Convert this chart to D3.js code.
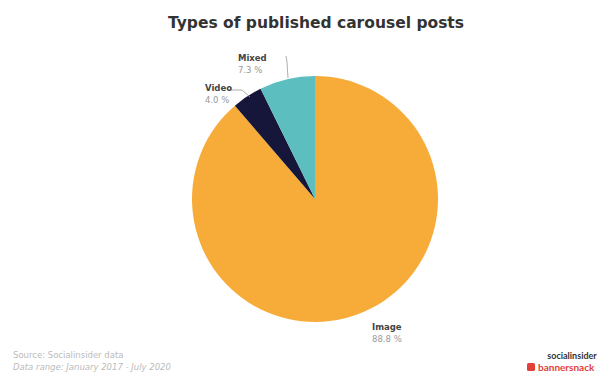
<!DOCTYPE html>
<html><head><meta charset="utf-8">
<script src="https://cdn.jsdelivr.net/npm/d3@7"></script>
<style>body{margin:0;background:#fff}svg{display:block}</style>
</head><body><div id="c"></div>
<script>
const categories = ["Image", "Video", "Mixed"];
const values = [88.8, 4.0, 7.3];
const valueLabels = ["88.8 %", "4.0 %", "7.3 %"];
const colors = ["#F7AC3A", "#16163A", "#5CBEBE"];
const title = "Types of published carousel posts";

const W = 616, H = 378;
const svg = d3.select("#c").append("svg").attr("width", W).attr("height", H);
const cx = 315, cy = 199, r = 123;

svg.append("text").attr("x", 316).attr("y", 28).attr("text-anchor", "middle")
  .attr("font-family", "'DejaVu Sans', sans-serif").attr("font-weight", 700)
  .attr("font-size", 15.5).attr("fill", "#333").text(title);

const pie = d3.pie().sort(null).value(d => d)(values);
const arc = d3.arc().innerRadius(0).outerRadius(r);
const g = svg.append("g").attr("transform", `translate(${cx},${cy})`);
g.selectAll("path").data(pie).join("path").attr("d", arc)
  .attr("fill", (d, i) => colors[i]);

const lab = [
  {x: 372, y: 330, line: null},
  {x: 205, y: 91, line: [[228, 90], [242, 90], [250, 97]]},
  {x: 238, y: 61, line: [[286, 56], [287, 62], [288, 78]]}
];
lab.forEach((L, i) => {
  if (L.line) svg.append("path").attr("d", d3.line()(L.line)).attr("fill", "none")
    .attr("stroke", "#999").attr("stroke-width", 0.8);
  const t = svg.append("text").attr("font-family", "'DejaVu Sans', sans-serif").attr("font-size", 8.5);
  t.append("tspan").attr("x", L.x).attr("y", L.y).attr("font-weight", 700).attr("fill", "#444").text(categories[i]);
  t.append("tspan").attr("x", L.x).attr("y", L.y + 12).attr("fill", "#999").text(valueLabels[i]);
});

svg.append("text").attr("x", 13).attr("y", 358).attr("font-family", "'DejaVu Sans', sans-serif")
  .attr("font-size", 8.5).attr("fill", "#bbb").text("Source: Socialinsider data");
svg.append("text").attr("x", 13).attr("y", 370).attr("font-family", "'DejaVu Sans', sans-serif")
  .attr("font-size", 8.5).attr("font-style", "italic").attr("fill", "#bbb").text("Data range: January 2017 - July 2020");

svg.append("text").attr("x", 572).attr("y", 359).attr("text-anchor", "middle")
  .attr("font-family", "Lato, sans-serif").attr("font-weight", 700).attr("font-size", 9)
  .attr("fill", "#333").text("socialinsider");
svg.append("rect").attr("x", 527).attr("y", 363).attr("width", 8).attr("height", 8).attr("rx", 1.5).attr("fill", "#e0413a");
svg.append("text").attr("x", 538).attr("y", 371)
  .attr("font-family", "Lato, sans-serif").attr("font-weight", 700).attr("font-size", 10)
  .attr("fill", "#e0413a").text("bannersnack");
</script></body></html>
